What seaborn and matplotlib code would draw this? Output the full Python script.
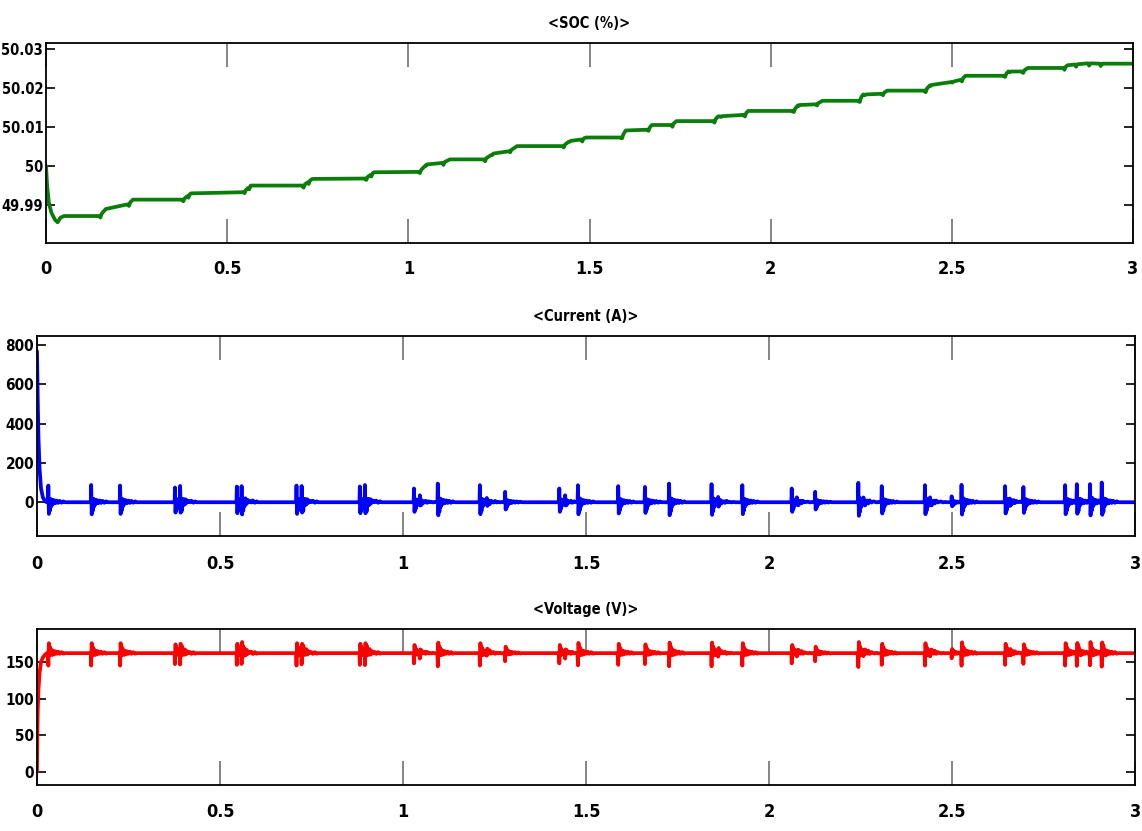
import numpy as np
import pandas as pd
import matplotlib
matplotlib.use("Agg")
import matplotlib.pyplot as plt
import seaborn as sns

# ---------------- data ----------------
x_ticks = [0, 0.5, 1, 1.5, 2, 2.5, 3]
x_tick_labels = ["0", "0.5", "1", "1.5", "2", "2.5", "3"]

titles = ["<SOC (%)>", "<Current (A)>", "<Voltage (V)>"]

soc_ticks = [49.99, 50.00, 50.01, 50.02, 50.03]
soc_tick_labels = ["49.99", "50", "50.01", "50.02", "50.03"]
cur_ticks = [0, 200, 400, 600, 800]
cur_tick_labels = ["0", "200", "400", "600", "800"]
volt_ticks = [0, 50, 100, 150]
volt_tick_labels = ["0", "50", "100", "150"]

# disturbance events seen on the current trace (s) and their spike heights (A)
event_times = [0.031, 0.148, 0.227, 0.377, 0.391, 0.546, 0.559, 0.709, 0.723,
               0.882, 0.896, 1.030, 1.046, 1.095, 1.210, 1.229, 1.279, 1.427,
               1.443, 1.478, 1.588, 1.661, 1.727, 1.843, 1.861, 1.927, 2.062,
               2.076, 2.126, 2.244, 2.258, 2.308, 2.426, 2.440, 2.499, 2.526,
               2.645, 2.658, 2.695, 2.809, 2.841, 2.877, 2.909]
current_peaks = [85, 88, 85, 75, 85, 80, 90, 85, 85,
                 80, 90, 70, 27, 95, 87, 27, 53, 70,
                 27, 87, 82, 78, 95, 92, 27, 87, 70,
                 27, 53, 99, 27, 82, 87, 27, 30, 90,
                 82, 27, 78, 87, 87, 95, 95]
# voltage excursion at each event (V)
voltage_swings = [17, 17, 17, 15, 17, 16, 18, 17, 17,
                  16, 18, 14, 6, 18, 17, 6, 11, 14,
                  6, 17, 16, 15, 18, 18, 6, 17, 14,
                  6, 11, 19, 6, 16, 17, 6, 7, 18,
                  16, 6, 15, 17, 17, 18, 18]
# SOC dip at each event (%)
soc_dips = [0.0000, 0.0006, 0.0006, 0.0005, 0.0006, 0.0005, 0.0006, 0.0006, 0.0006,
            0.0005, 0.0006, 0.0005, 0.0002, 0.0006, 0.0006, 0.0002, 0.0004, 0.0005,
            0.0002, 0.0006, 0.0005, 0.0005, 0.0006, 0.0006, 0.0002, 0.0006, 0.0005,
            0.0002, 0.0004, 0.0006, 0.0002, 0.0005, 0.0006, 0.0002, 0.0002, 0.0006,
            0.0005, 0.0002, 0.0005, 0.0006, 0.0006, 0.0006, 0.0006]

# shape of one disturbance (time offset s, relative level)
shape_dt = [-0.001, 0.0, 0.0015, 0.003, 0.0045, 0.006, 0.008, 0.0105, 0.013,
            0.016, 0.019, 0.023, 0.027, 0.031, 0.036, 0.041, 0.046]
current_shape = [0, 1.0, -0.7, 0.1, -0.5, 0.2, -0.25, 0.15, -0.1,
                 0.12, -0.06, 0.1, -0.04, 0.08, -0.03, 0.05, 0]
voltage_shape = [0, -1.0, 0.8, -0.2, 0.5, -0.1, 0.3, -0.15, 0.2,
                 -0.1, 0.15, -0.05, 0.12, -0.05, 0.08, -0.04, 0]
soc_dip_dt = [-0.001, 0.002, 0.004, 0.006]
soc_dip_shape = [0, -1.0, -0.3, 0]

# start-up transients
current_start_t = [0, 0.001, 0.002, 0.004, 0.007, 0.011, 0.016, 0.022, 0.027, 3.0]
current_start_v = [770, 640, 520, 330, 170, 70, 25, 5, 0, 0]
voltage_start_t = [0, 0.001, 0.002, 0.004, 0.007, 0.011, 0.016, 0.022, 0.027, 3.0]
voltage_start_v = [0, 55, 85, 112, 135, 150, 156, 160, 162, 162]

# SOC staircase
soc_t = [0, 0.003, 0.008, 0.015, 0.025, 0.032, 0.040, 0.050, 0.148, 0.165, 0.215,
         0.227, 0.240, 0.378, 0.400, 0.545, 0.565, 0.710, 0.735, 0.882, 0.905,
         1.030, 1.050, 1.095, 1.115, 1.210, 1.235, 1.279, 1.300, 1.427, 1.445,
         1.478, 1.490, 1.588, 1.600, 1.661, 1.672, 1.727, 1.740, 1.843, 1.855,
         1.927, 1.938, 2.062, 2.076, 2.126, 2.143, 2.244, 2.255, 2.308, 2.322,
         2.426, 2.440, 2.499, 2.526, 2.538, 2.645, 2.656, 2.695, 2.710, 2.809,
         2.820, 2.841, 2.877, 2.909, 2.922, 3.0]
soc_v = [50.0000, 49.9950, 49.9905, 49.9880, 49.9862, 49.9856, 49.9868, 49.9872,
         49.9872, 49.9890, 49.9900, 49.9902, 49.9914, 49.9914, 49.9930, 49.9933,
         49.9950, 49.9950, 49.9967, 49.9968, 49.9984, 49.9985, 50.0004, 50.0008,
         50.0017, 50.0017, 50.0032, 50.0038, 50.0051, 50.0051, 50.0064, 50.0068,
         50.0073, 50.0073, 50.0091, 50.0093, 50.0105, 50.0105, 50.0115, 50.0115,
         50.0127, 50.0131, 50.0141, 50.0141, 50.0156, 50.0158, 50.0167, 50.0167,
         50.0183, 50.0185, 50.0193, 50.0193, 50.0207, 50.0215, 50.0221, 50.0231,
         50.0231, 50.0242, 50.0242, 50.0251, 50.0251, 50.0258, 50.0260, 50.0263,
         50.0262, 50.0262, 50.0262]

# ---------------- build traces ----------------
nodes = set(np.round(current_start_t, 4)) | set(np.round(soc_t, 4))
for te in event_times:
    for d in shape_dt:
        nodes.add(round(te + d, 4))
    for d in soc_dip_dt:
        nodes.add(round(te + d, 4))
t = np.array(sorted(n for n in nodes if 0 <= n <= 3.0))

cur = np.interp(t, current_start_t, current_start_v)
volt = np.interp(t, voltage_start_t, voltage_start_v)
soc = np.interp(t, soc_t, soc_v)
for te, a, vs, sd in zip(event_times, current_peaks, voltage_swings, soc_dips):
    dt = np.array(shape_dt) + te
    cur += a * np.interp(t, dt, current_shape, left=0, right=0)
    volt += vs * np.interp(t, dt, voltage_shape, left=0, right=0)
    soc += sd * np.interp(t, np.array(soc_dip_dt) + te, soc_dip_shape, left=0, right=0)

df = pd.DataFrame({"t": t, "soc": soc, "cur": cur, "volt": volt})

# ---------------- plotting ----------------
sns.set_theme(style="white")
plt.rcParams["font.family"] = ["DejaVu Sans"]
plt.rcParams["font.stretch"] = "condensed"
plt.rcParams["font.weight"] = "bold"
plt.rcParams["text.color"] = "black"

fig = plt.figure(figsize=(11.42, 8.31), dpi=100)
fig.patch.set_facecolor("white")
ax1 = fig.add_axes([0.0403, 0.7076, 0.9518, 0.2407])
ax2 = fig.add_axes([0.0324, 0.3550, 0.9615, 0.2407])
ax3 = fig.add_axes([0.0324, 0.0554, 0.9615, 0.1877])

specs = [
    (ax1, "soc", "#0b7d0b", (49.9803, 50.0315), soc_ticks, soc_tick_labels, 12, 10.5),
    (ax2, "cur", "#0000ff", (-172, 847), cur_ticks, cur_tick_labels, 14, 11),
    (ax3, "volt", "#ff0000", (-18, 195), volt_ticks, volt_tick_labels, 13, 11),
]
for i, (ax, col, color, ylim, yt, ytl, xpad, yfs) in enumerate(specs):
    sns.lineplot(data=df, x="t", y=col, ax=ax, color=color, linewidth=2.7,
                 estimator=None, sort=True)
    ax.set_xlim(0, 3)
    ax.set_ylim(*ylim)
    ax.set_xticks(x_ticks)
    ax.set_xticklabels(x_tick_labels, fontsize=13, fontweight="bold",
                       fontstretch="condensed")
    ax.set_yticks(yt)
    ax.set_yticklabels(ytl, fontsize=yfs, fontweight="bold",
                       fontstretch="condensed")
    ax.set_xlabel("")
    ax.set_ylabel("")
    ax.set_title(titles[i], fontsize=10.5, fontweight="bold", fontstretch="condensed",
                 color="black", pad=11)
    ax.tick_params(axis="x", direction="in", length=17, width=1.2,
                   top=True, bottom=True, color="#707070", pad=xpad, labelcolor="black")
    ax.tick_params(axis="y", direction="in", length=6.5, width=1.2,
                   left=True, right=True, color="black", pad=2, labelcolor="black")
    for sp in ax.spines.values():
        sp.set_visible(True)
        sp.set_color("black")
        sp.set_linewidth(1.3)
    ax.grid(False)

fig.savefig("out.png", dpi=100, facecolor="white")
